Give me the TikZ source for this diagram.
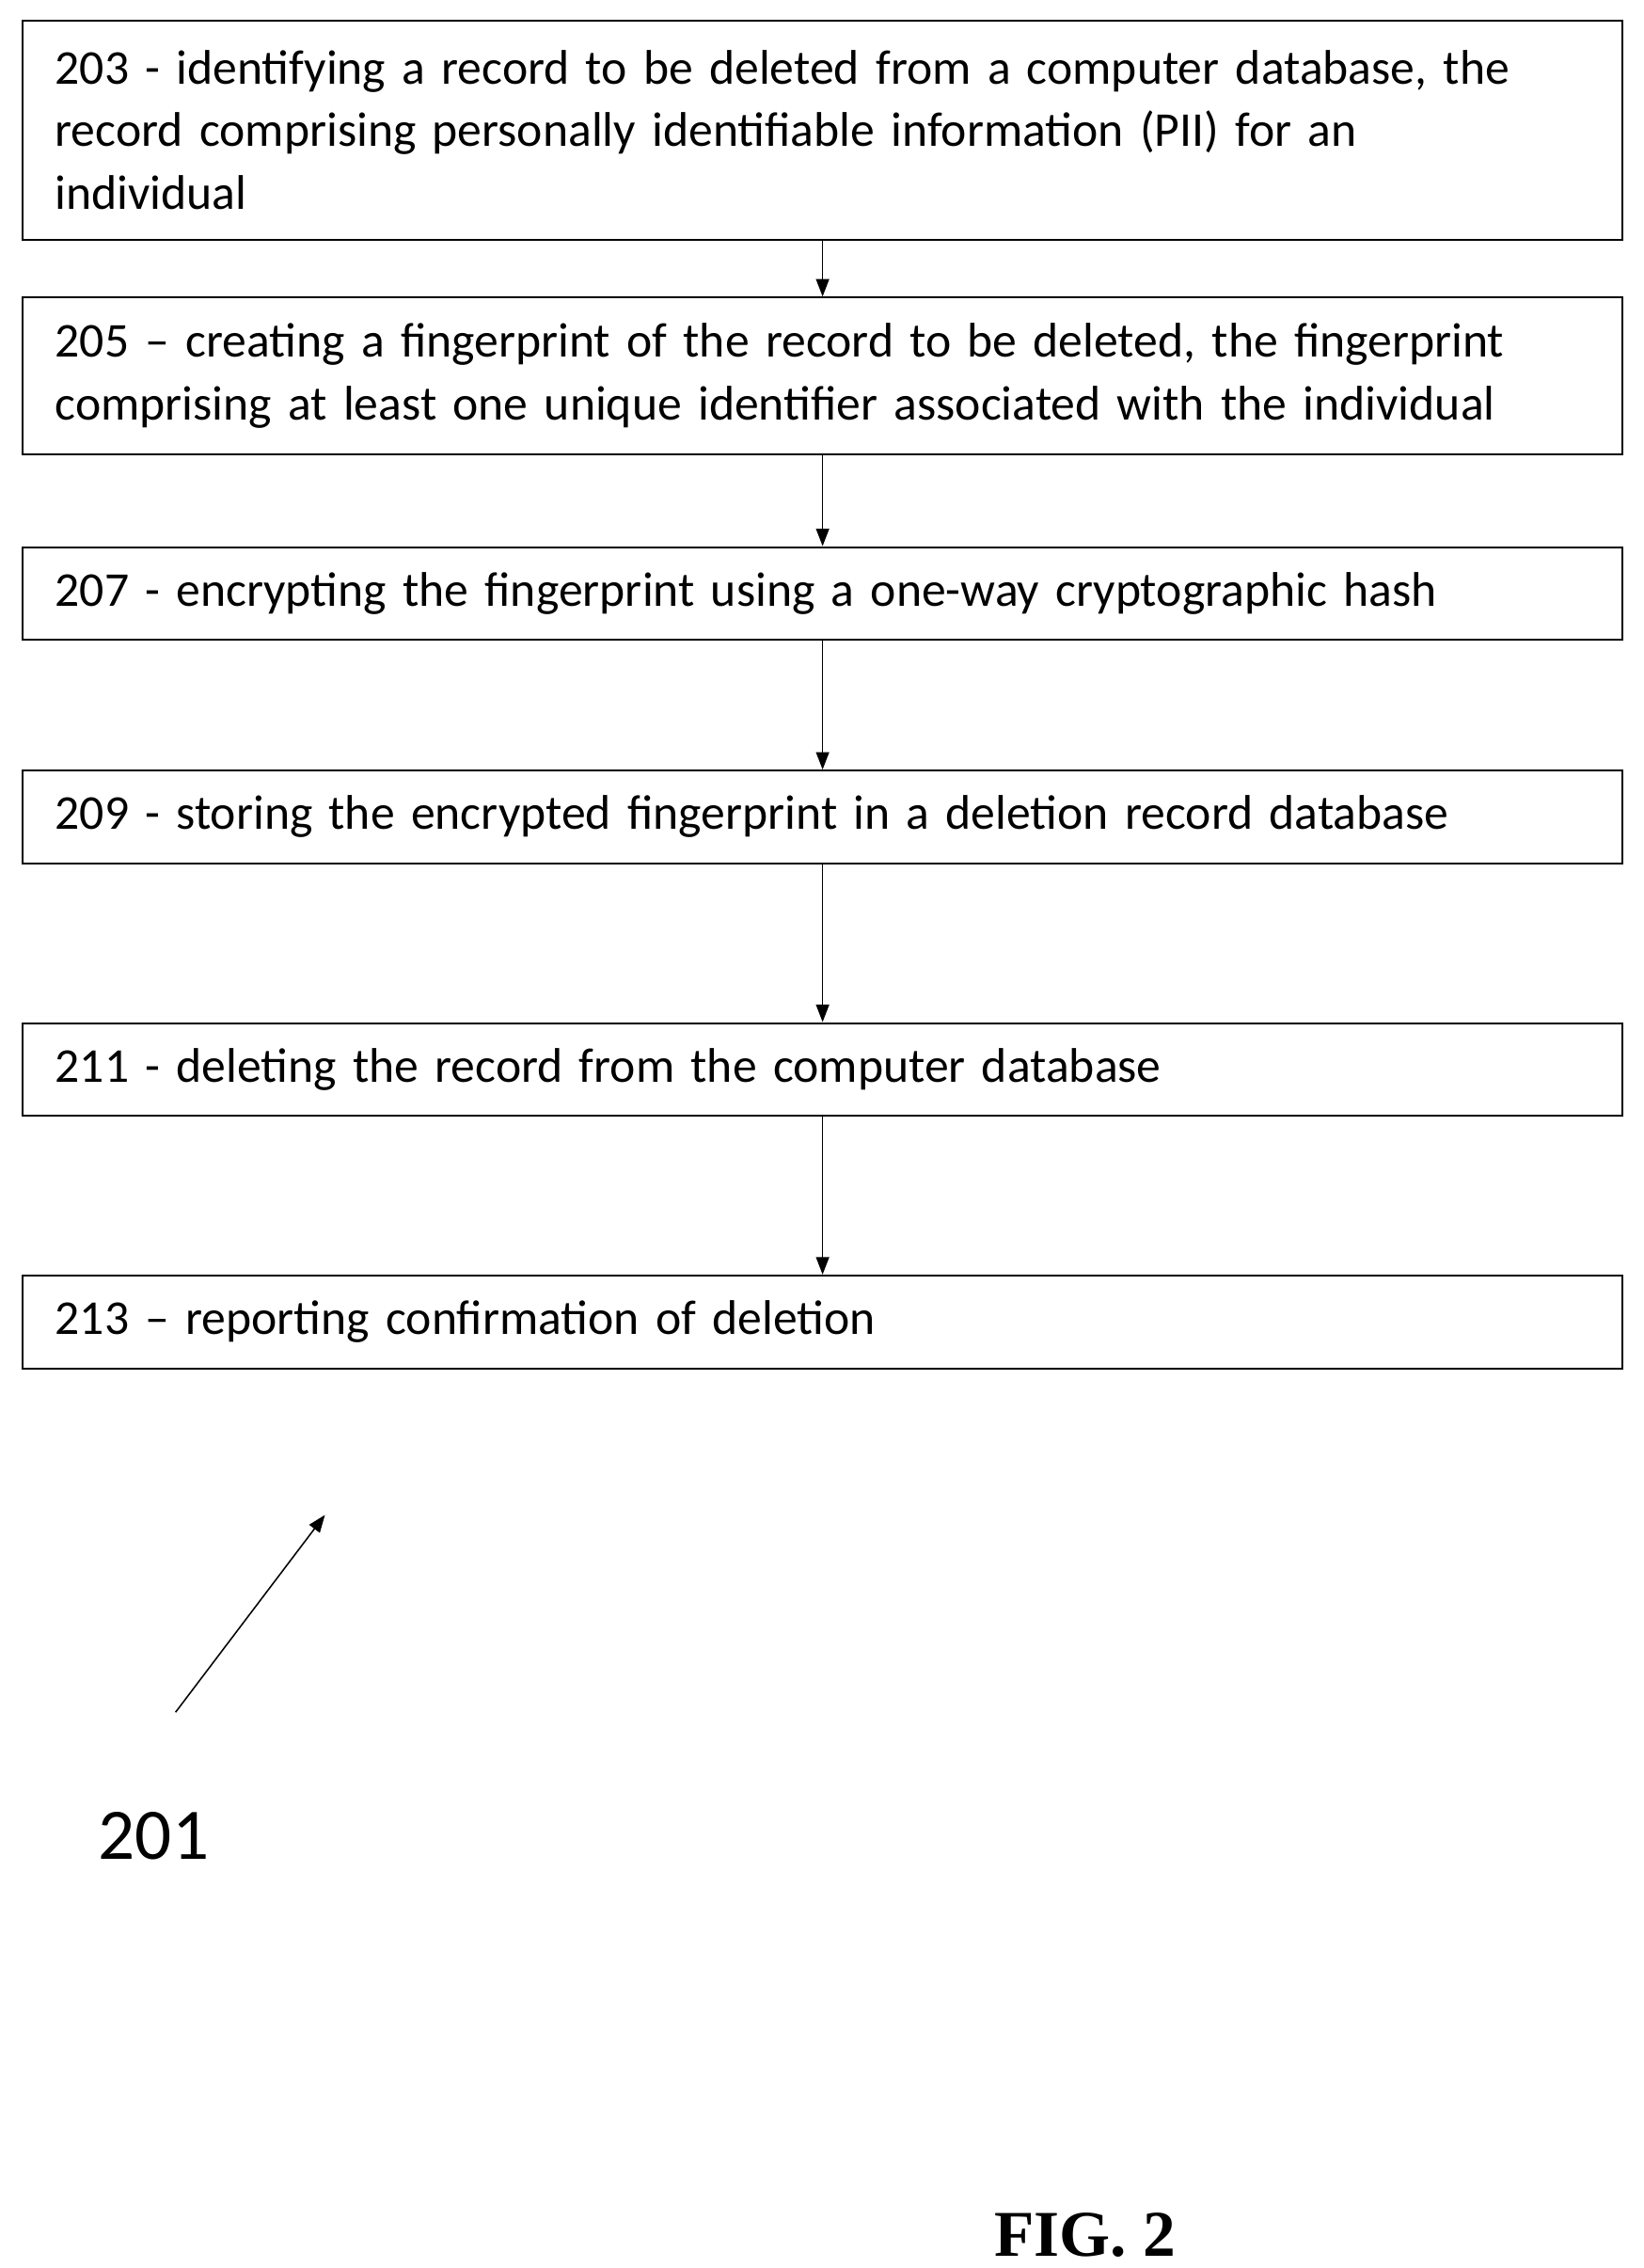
\documentclass[tikz,border=0pt]{standalone}
\usepackage{fontspec}
\setmainfont{Carlito}
\newfontfamily\figfont{Liberation Serif}
\usetikzlibrary{arrows.meta}
\begin{document}
\begin{tikzpicture}[x=1pt,y=-1pt,
  stepbox/.style={draw,line width=1.3pt,minimum width=1103pt,text width=1058pt,align=left,inner sep=0pt,font=\fontsize{33.5}{43}\selectfont},
  flow/.style={-{Triangle[length=12pt,width=9pt]},line width=1pt}]
\useasboundingbox (0,0) rectangle (1133,1563);
\node[stepbox,minimum height=151pt] (b1) at (567,89.5) {203 - identifying a record to be deleted from a computer database, the\\record comprising personally identifiable information (PII) for an\\individual};
\node[stepbox,minimum height=108pt] (b2) at (567,259) {205 – creating a fingerprint of the record to be deleted, the fingerprint\\comprising at least one unique identifier associated with the individual};
\node[stepbox,minimum height=64pt] (b3) at (567,409) {207 - encrypting the fingerprint using a one-way cryptographic hash};
\node[stepbox,minimum height=64pt] (b4) at (567,563) {209 - storing the encrypted fingerprint in a deletion record database};
\node[stepbox,minimum height=64pt] (b5) at (567,737) {211 - deleting the record from the computer database};
\node[stepbox,minimum height=64pt] (b6) at (567,911) {213 – reporting confirmation of deletion};
\draw[flow] (b1) -- (b2);
\draw[flow] (b2) -- (b3);
\draw[flow] (b3) -- (b4);
\draw[flow] (b4) -- (b5);
\draw[flow] (b5) -- (b6);
\coordinate (s) at (121,1180);
\coordinate (t) at (224,1044);
\draw[flow] (s) -- (t);
\node[font=\fontsize{50}{55}\selectfont] (lbl) at (106,1265) {201};
\node[font=\figfont\bfseries\fontsize{45}{50}\selectfont] (fig) at (748,1540) {FIG. 2};
\end{tikzpicture}
\end{document}
